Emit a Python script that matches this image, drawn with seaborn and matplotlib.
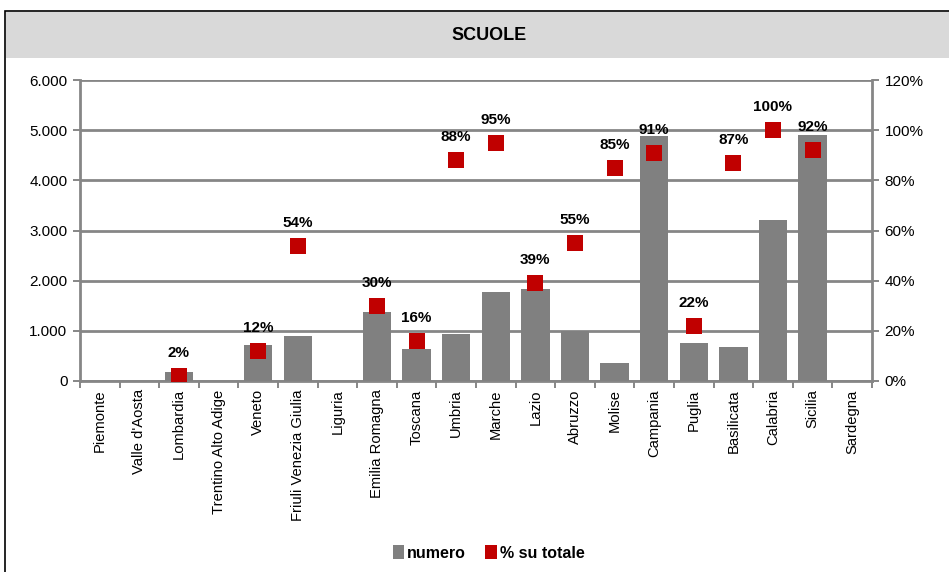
import numpy as np
import pandas as pd
import matplotlib
matplotlib.use('Agg')
import matplotlib.pyplot as plt
import matplotlib.ticker as mticker
from matplotlib.patches import Rectangle, Patch
import seaborn as sns

sns.set_theme(style="white")
plt.rcParams['font.family'] = ['Liberation Sans', 'DejaVu Sans']
plt.rcParams['text.color'] = 'black'
plt.rcParams['xtick.color'] = 'black'
plt.rcParams['ytick.color'] = 'black'

# dati
regioni = ["Piemonte", "Valle d'Aosta", "Lombardia", "Trentino Alto Adige", "Veneto",
           "Friuli Venezia Giulia", "Liguria", "Emilia Romagna", "Toscana", "Umbria",
           "Marche", "Lazio", "Abruzzo", "Molise", "Campania", "Puglia", "Basilicata",
           "Calabria", "Sicilia", "Sardegna"]
numero = [0, 0, 170, 0, 720, 900, 0, 1370, 640, 935, 1775, 1835, 990, 360, 4880,
          755, 680, 3205, 4900, 0]
perc = [np.nan, np.nan, 2, np.nan, 12, 54, np.nan, 30, 16, 88, 95, 39, 55, 85, 91,
        22, 87, 100, 92, np.nan]
perc_labels = ["", "", "2%", "", "12%", "54%", "", "30%", "16%", "88%", "95%", "39%",
               "55%", "85%", "91%", "22%", "87%", "100%", "92%", ""]

df = pd.DataFrame({"regione": regioni, "numero": numero, "perc": perc})

GRIGIO = "#808080"
ROSSO = "#c00000"
LINEA = "#868686"

fig = plt.figure(figsize=(9.49, 5.72), dpi=100)

# cornice e banda del titolo
fig.patches.append(Rectangle((5 / 949, -0.05), 1.0, 1.05 - 11 / 572, transform=fig.transFigure,
                             facecolor="none", edgecolor="black", lw=1.2, zorder=0))
fig.patches.append(Rectangle((6 / 949, 1 - 58 / 572), 1.0, 46 / 572, transform=fig.transFigure,
                             facecolor="#d9d9d9", edgecolor="none", zorder=0))
fig.text(0.515, 1 - 35 / 572, "SCUOLE", ha="center", va="center", fontsize=13,
         fontweight="bold", zorder=2)

ax = fig.add_axes([80 / 949, 1 - 381 / 572, (872 - 80) / 949, (381 - 80) / 572])
ax.set_zorder(2)
ax.patch.set_alpha(0)
sns.barplot(data=df, x="regione", y="numero", order=regioni, color=GRIGIO, saturation=1,
            width=0.72, linewidth=0, ax=ax, zorder=3)
ax.set_ylim(0, 6000)
ax.set_xlim(-0.5, len(regioni) - 0.5)
ax.set_yticks(np.arange(0, 6001, 1000))
ax.yaxis.set_major_formatter(mticker.FuncFormatter(lambda v, p: f"{int(v):,}".replace(",", ".")))
ax.grid(axis="y", color=LINEA, lw=2, zorder=0)
ax.set_axisbelow(True)
ax.set_xlabel("")
ax.set_ylabel("")

ax2 = ax.twinx()
ax2.set_zorder(3)
sns.stripplot(data=df, x="regione", y="perc", order=regioni, jitter=False, marker="s",
              color=ROSSO, size=11.5, linewidth=0, ax=ax2, zorder=5)
ax2.set_ylim(0, 120)
ax2.set_yticks(np.arange(0, 121, 20))
ax2.yaxis.set_major_formatter(mticker.FuncFormatter(lambda v, p: f"{int(v)}%"))
ax2.set_ylabel("")
ax2.set_xlabel("")
ax2.set_xlim(-0.5, len(regioni) - 0.5)

for i, (v, lab) in enumerate(zip(perc, perc_labels)):
    if lab:
        ax2.annotate(lab, (i, v), xytext=(0, 11.5), textcoords="offset points", ha="center",
                     va="bottom", fontsize=11, fontweight="bold", zorder=6)

# assi e tacche
for a in (ax, ax2):
    for s in a.spines.values():
        s.set_visible(False)
    a.tick_params(axis="y", length=5, width=1.4, color=LINEA, labelsize=11, pad=4,
                  direction="out")
for name in ("left", "bottom"):
    ax.spines[name].set_visible(True)
    ax.spines[name].set_color(LINEA)
    ax.spines[name].set_linewidth(2)
ax2.spines["right"].set_visible(True)
ax2.spines["right"].set_color(LINEA)
ax2.spines["right"].set_linewidth(2)
ax.tick_params(axis="y", left=True)
ax2.tick_params(axis="y", right=True)

ax.set_xticks(np.arange(len(regioni)))
ax.set_xticklabels(regioni, rotation=90, fontsize=10.6, va="top", ha="center")
ax.set_xticks(np.arange(-0.5, len(regioni)), minor=True)
ax.tick_params(axis="x", which="minor", bottom=True, length=5, width=1.4, color=LINEA,
               direction="out")
ax.tick_params(axis="x", which="major", length=0, pad=6)
ax2.tick_params(axis="x", labelbottom=False, bottom=False)

handles = [Patch(facecolor=GRIGIO, edgecolor="none"), Patch(facecolor=ROSSO, edgecolor="none")]
fig.legend(handles, ["numero", "% su totale"], loc="center", bbox_to_anchor=(0.515, 1 - 553 / 572),
           ncol=2, frameon=False, handlelength=0.7, handleheight=0.9,
           handletextpad=0.2, columnspacing=1.2, prop={"weight": "bold", "size": 11.5})

fig.savefig("out.png", dpi=100)
